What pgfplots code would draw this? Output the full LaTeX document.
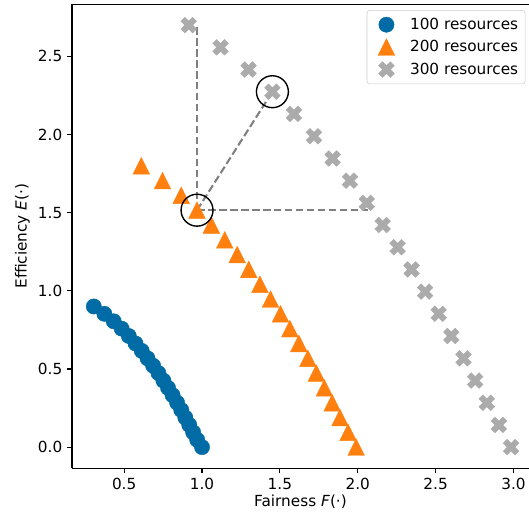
\documentclass[border=0pt]{standalone}
\usepackage{fontspec}
\setmainfont{DejaVu Sans}
\usepackage{pgfplots}
\pgfplotsset{compat=1.18}

\definecolor{cbblue}{HTML}{006BA4}
\definecolor{cborange}{HTML}{FF800E}
\definecolor{cbgray}{HTML}{ABABAB}

% matplotlib-like '^' and 'X' markers
\pgfdeclareplotmark{mtri}{%
  \pgfpathmoveto{\pgfpoint{0pt}{\pgfplotmarksize}}%
  \pgfpathlineto{\pgfpoint{-\pgfplotmarksize}{-\pgfplotmarksize}}%
  \pgfpathlineto{\pgfpoint{\pgfplotmarksize}{-\pgfplotmarksize}}%
  \pgfpathclose\pgfusepathqfillstroke}
\pgfdeclareplotmark{mX}{%
  \pgfpathmoveto{\pgfpoint{0.4714\pgfplotmarksize}{-0.9428\pgfplotmarksize}}%
  \pgfpathlineto{\pgfpoint{0.9428\pgfplotmarksize}{-0.4714\pgfplotmarksize}}%
  \pgfpathlineto{\pgfpoint{0.4714\pgfplotmarksize}{0pt}}%
  \pgfpathlineto{\pgfpoint{0.9428\pgfplotmarksize}{0.4714\pgfplotmarksize}}%
  \pgfpathlineto{\pgfpoint{0.4714\pgfplotmarksize}{0.9428\pgfplotmarksize}}%
  \pgfpathlineto{\pgfpoint{0pt}{0.4714\pgfplotmarksize}}%
  \pgfpathlineto{\pgfpoint{-0.4714\pgfplotmarksize}{0.9428\pgfplotmarksize}}%
  \pgfpathlineto{\pgfpoint{-0.9428\pgfplotmarksize}{0.4714\pgfplotmarksize}}%
  \pgfpathlineto{\pgfpoint{-0.4714\pgfplotmarksize}{0pt}}%
  \pgfpathlineto{\pgfpoint{-0.9428\pgfplotmarksize}{-0.4714\pgfplotmarksize}}%
  \pgfpathlineto{\pgfpoint{-0.4714\pgfplotmarksize}{-0.9428\pgfplotmarksize}}%
  \pgfpathlineto{\pgfpoint{0pt}{-0.4714\pgfplotmarksize}}%
  \pgfpathclose\pgfusepathqfillstroke}

\begin{document}
\begin{tikzpicture}
\begin{axis}[
  name=ax,
  scale only axis,
  width=329pt, height=334.2pt,
  xmin=0.165, xmax=3.10,
  ymin=-0.135, ymax=2.835,
  axis lines*=left,
  axis line style={line width=0.8pt},
  tick align=outside,
  major tick length=3.5pt,
  tick style={line width=0.8pt, black},
  xtick={0.5,1.0,1.5,2.0,2.5,3.0},
  ytick={0.0,0.5,1.0,1.5,2.0,2.5},
  /pgf/number format/.cd, fixed, fixed zerofill, precision=1, assume math mode=true,
  /pgfplots/.cd,
  ticklabel style={font=\fontsize{11}{13}\selectfont},
  xlabel={Fairness \textit{F}(·)},
  ylabel={Efficiency \textit{E}(·)},
  label style={font=\fontsize{11}{13}\selectfont},
  xlabel style={yshift=3pt},
  ylabel style={yshift=-1pt},
  legend cell align=left,
  legend image code/.code={%
    \path[draw=none, fill=none] (0pt,0pt) (26pt,0pt);
    \draw[#1] plot coordinates {(11pt,0pt)};},
  legend style={at={(0.992,0.987)}, anchor=north east,
    draw=black!20, rounded corners=2pt, fill=white,
    font=\fontsize{11}{13}\selectfont, row sep=2.5pt, inner xsep=3pt, inner ysep=3.5pt},
]
% 100 resources
\addplot[only marks, mark=*, mark size=5.5pt, color=cbblue, mark options={line width=0.3pt}]
  coordinates {
    (0.305,0.900) (0.373,0.853) (0.433,0.805) (0.484,0.758) (0.530,0.711)
    (0.573,0.663) (0.613,0.616) (0.650,0.568) (0.686,0.521) (0.720,0.474)
    (0.752,0.426) (0.782,0.379) (0.811,0.332) (0.840,0.284) (0.867,0.237)
    (0.893,0.189) (0.918,0.142) (0.943,0.095) (0.969,0.047) (1.000,0.000)
};
\addlegendentry{100 resources}
% 200 resources
\addplot[only marks, mark=mtri, mark size=6pt, color=cborange, mark options={line width=0.3pt}]
  coordinates {
    (0.610,1.800) (0.746,1.705) (0.866,1.611) (0.968,1.516) (1.060,1.421)
    (1.146,1.326) (1.226,1.232) (1.300,1.137) (1.372,1.042) (1.440,0.947)
    (1.504,0.853) (1.564,0.758) (1.622,0.663) (1.680,0.568) (1.734,0.474)
    (1.786,0.379) (1.836,0.284) (1.886,0.189) (1.938,0.095) (1.990,0.000)
};
\addlegendentry{200 resources}
% 300 resources
\addplot[only marks, mark=mX, mark size=6pt, color=cbgray, mark options={line width=0.3pt}]
  coordinates {
    (0.915,2.700) (1.119,2.558) (1.299,2.416) (1.452,2.274) (1.590,2.132)
    (1.719,1.989) (1.839,1.847) (1.950,1.705) (2.058,1.563) (2.160,1.421)
    (2.256,1.279) (2.346,1.137) (2.433,0.995) (2.520,0.853) (2.601,0.711)
    (2.679,0.568) (2.754,0.426) (2.829,0.284) (2.907,0.142) (2.985,0.000)
};
\addlegendentry{300 resources}
% dashed guides from the selected point
\addplot[forget plot, gray, line width=1.5pt, dash pattern=on 5.5pt off 2.4pt]
  coordinates {(0.968,1.516) (0.968,2.700)};
\addplot[forget plot, gray, line width=1.5pt, dash pattern=on 5.5pt off 2.4pt]
  coordinates {(0.968,1.516) (1.452,2.274)};
\addplot[forget plot, gray, line width=1.5pt, dash pattern=on 5.5pt off 2.4pt]
  coordinates {(0.968,1.516) (2.064,1.516)};
% highlighted points
\addplot[forget plot, only marks, mark=o, mark size=11.5pt, black, mark options={line width=1pt}]
  coordinates {(0.968,1.516) (1.452,2.274)};
% top spine
\draw[line width=0.8pt] (rel axis cs:0,1) -- (rel axis cs:1,1);
\end{axis}
\pgfresetboundingbox
\path ([shift={(-51.84pt,-36.5pt)}]ax.south west) rectangle ([shift={(0pt,2.9pt)}]ax.north east);
\end{tikzpicture}
\end{document}
